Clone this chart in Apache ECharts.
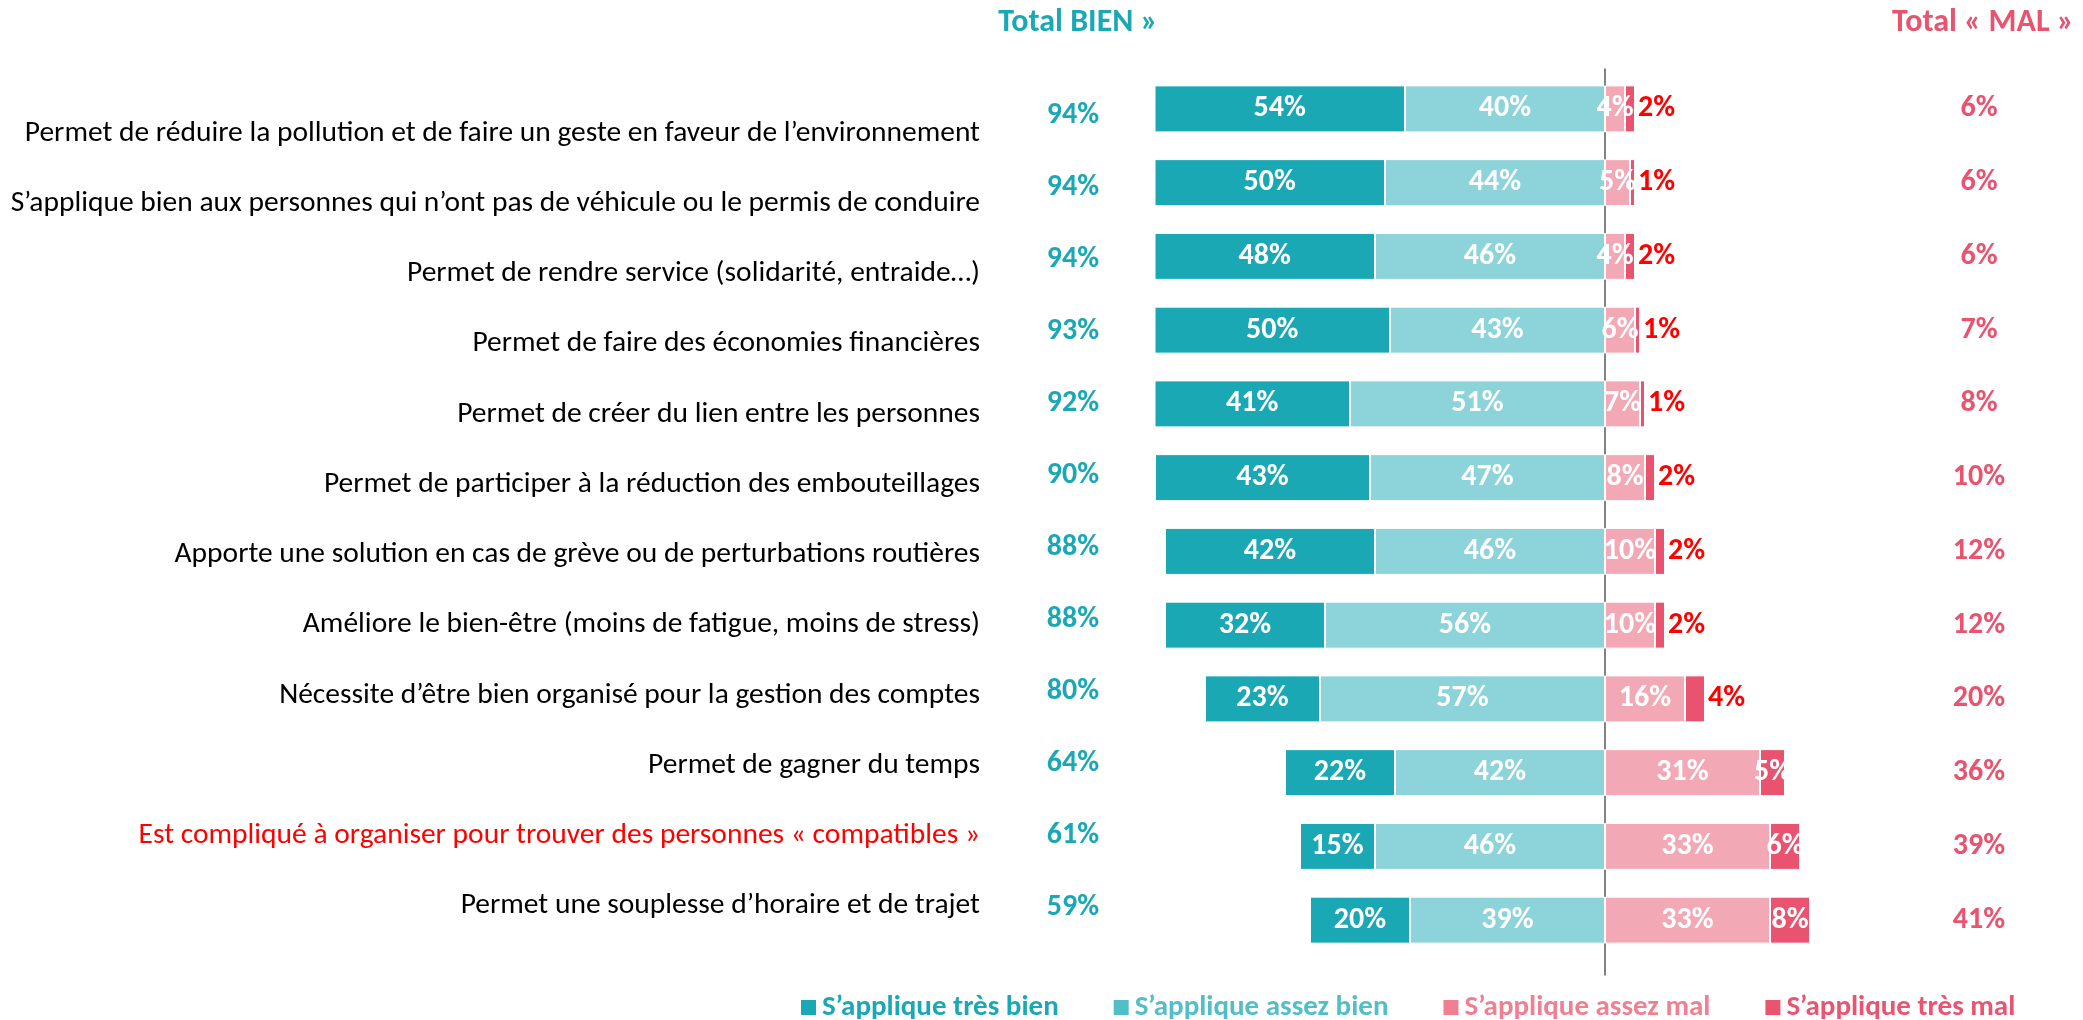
<!DOCTYPE html>
<html>
<head>
<meta charset="utf-8">
<script src="https://cdn.jsdelivr.net/npm/echarts@6/dist/echarts.min.js"></script>
<style>
  html, body { margin: 0; padding: 0; background: #fff; }
  #chart { width: 2083px; height: 1020px; }
</style>
</head>
<body>
<div id="chart"></div>
<script>
const categories = [
  'Permet de réduire la pollution et de faire un geste en faveur de l’environnement',
  'S’applique bien aux personnes qui n’ont pas de véhicule ou le permis de conduire',
  'Permet de rendre service (solidarité, entraide…)',
  'Permet de faire des économies financières',
  'Permet de créer du lien entre les personnes',
  'Permet de participer à la réduction des embouteillages',
  'Apporte une solution en cas de grève ou de perturbations routières',
  'Améliore le bien-être (moins de fatigue, moins de stress)',
  'Nécessite d’être bien organisé pour la gestion des comptes',
  'Permet de gagner du temps',
  'Est compliqué à organiser pour trouver des personnes « compatibles »',
  'Permet une souplesse d’horaire et de trajet'
]
const tresBien = [54, 50, 48, 50, 41, 43, 42, 32, 23, 22, 15, 20]
const assezBien = [40, 44, 46, 43, 51, 47, 46, 56, 57, 42, 46, 39]
const assezMal = [4, 5, 4, 6, 7, 8, 10, 10, 16, 31, 33, 33]
const tresMal = [2, 1, 2, 1, 1, 2, 2, 2, 4, 5, 6, 8]
const totalBien = [94, 94, 94, 93, 92, 90, 88, 88, 80, 64, 61, 59]
const totalMal = [6, 6, 6, 7, 8, 10, 12, 12, 20, 36, 39, 41]
const highlighted = 'Est compliqué à organiser pour trouver des personnes « compatibles »'

const FONT = "Carlito, 'Noto Sans', sans-serif"
const C_TB = '#1BA8B5', C_AB = '#8CD3DA', C_AM = '#F3A9B5', C_TM = '#E9536F'

const chart = echarts.init(document.getElementById('chart'))

const inside = { show: true, position: 'inside', color: '#fff', fontWeight: 'bold', fontSize: 30, fontFamily: FONT,
  formatter: p => Math.abs(p.value) + '%' }

const option = {
  animation: false,
  backgroundColor: '#fff',
  textStyle: { fontFamily: FONT },
  title: [
    { text: 'Total BIEN »', left: 1073, top: 2, textAlign: 'center',
      textStyle: { color: C_TB, fontSize: 32, fontWeight: 'bold', fontFamily: FONT } },
    { text: 'Total « MAL »', left: 1978, top: 2, textAlign: 'center',
      textStyle: { color: C_TM, fontSize: 32, fontWeight: 'bold', fontFamily: FONT } }
  ],
  legend: {
    left: 794, top: 988, icon: 'rect', itemWidth: 17, itemHeight: 17, itemGap: 53,
    textStyle: { fontSize: 29, fontWeight: 'bold', fontFamily: FONT },
    data: [
      { name: 'S’applique très bien', itemStyle: { color: '#1BA8B5' }, textStyle: { color: '#1BA8B5' } },
      { name: 'S’applique assez bien', itemStyle: { color: '#52BEC8' }, textStyle: { color: '#52BEC8' } },
      { name: 'S’applique assez mal', itemStyle: { color: '#F07F92' }, textStyle: { color: '#F07F92' } },
      { name: 'S’applique très mal', itemStyle: { color: '#EA5470' }, textStyle: { color: '#EA5470' } }
    ]
  },
  grid: [
    { left: 1155, right: 228, top: 72, bottom: 63 }, // bars
    { left: 990, width: 10, top: 98, bottom: 79 },   // category labels
    { left: 1073, width: 10, top: 79, bottom: 76 },  // total bien
    { left: 1155, right: 228, top: 69, bottom: 45 }  // zero line
  ],
  xAxis: [
    { gridIndex: 0, type: 'value', min: -90, max: 50, show: false },
    { gridIndex: 1, type: 'value', min: 0, max: 1, show: false },
    { gridIndex: 2, type: 'value', min: 0, max: 1, show: false },
    { gridIndex: 3, type: 'value', min: -90, max: 50, show: false }
  ],
  yAxis: [
    { gridIndex: 0, type: 'category', data: categories, inverse: true,
      axisLine: { show: false }, axisTick: { show: false }, axisLabel: { show: false } },
    { gridIndex: 0, type: 'category', position: 'right', data: totalMal.map(v => v + '%'), inverse: true,
      axisLine: { show: false }, axisTick: { show: false },
      axisLabel: { align: 'center', margin: 124, color: C_TM, fontSize: 30, fontWeight: 'bold', fontFamily: FONT } },
    { gridIndex: 1, type: 'category', data: categories, inverse: true,
      axisLine: { show: false }, axisTick: { show: false },
      axisLabel: { margin: 10, fontSize: 29.5, fontFamily: FONT,
        color: v => v === highlighted ? '#FF0000' : '#000' } },
    { gridIndex: 2, type: 'category', data: totalBien.map(v => v + '%'), inverse: true,
      axisLine: { show: false }, axisTick: { show: false },
      axisLabel: { align: 'center', margin: 0, color: C_TB, fontSize: 30, fontWeight: 'bold', fontFamily: FONT } },
    { gridIndex: 3, type: 'value', min: 0, max: 1, splitLine: { show: false },
      axisLine: { show: true, onZero: true, lineStyle: { color: '#595959', width: 1.5 } },
      axisTick: { show: false }, axisLabel: { show: false } }
  ],
  series: [
    { name: 'S’applique assez bien', type: 'bar', stack: 'total', barWidth: 47, xAxisIndex: 0, yAxisIndex: 0,
      itemStyle: { color: C_AB, borderColor: '#fff', borderWidth: 1 },
      label: inside, data: assezBien.map(v => -v) },
    { name: 'S’applique très bien', type: 'bar', stack: 'total', barWidth: 47, xAxisIndex: 0, yAxisIndex: 0,
      itemStyle: { color: C_TB, borderColor: '#fff', borderWidth: 1 },
      label: inside, data: tresBien.map(v => -v) },
    { name: 'S’applique assez mal', type: 'bar', stack: 'total', barWidth: 47, xAxisIndex: 0, yAxisIndex: 0,
      itemStyle: { color: C_AM, borderColor: '#fff', borderWidth: 1 },
      label: inside, data: assezMal },
    { name: 'S’applique très mal', type: 'bar', stack: 'total', barWidth: 47, xAxisIndex: 0, yAxisIndex: 0,
      itemStyle: { color: C_TM, borderColor: '#fff', borderWidth: 1 },
      label: inside,
      // small values sit outside the bar in red, as in the original
      data: tresMal.map(v => v < 5
        ? { value: v, label: { position: 'right', distance: 3, color: '#FF0000' } }
        : v) }
  ]
}

chart.setOption(option)
</script>
</body>
</html>
